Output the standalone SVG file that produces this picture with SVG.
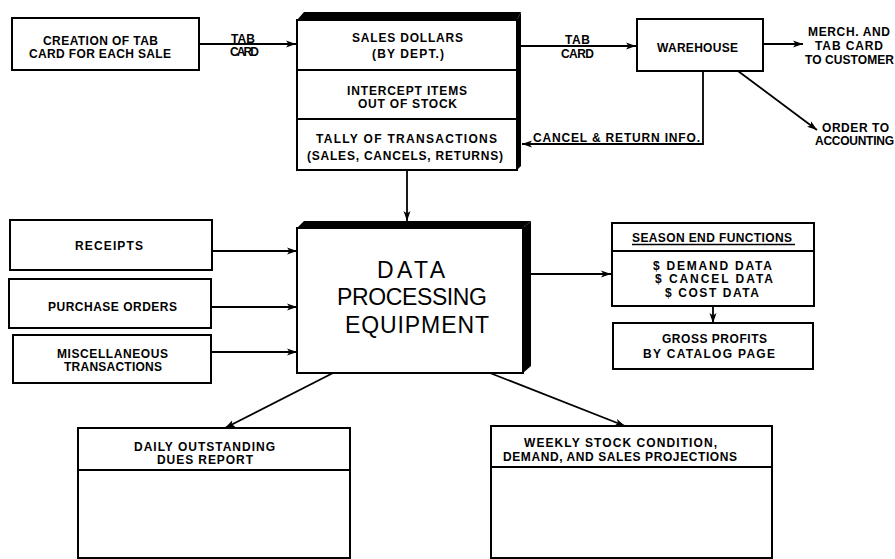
<svg xmlns="http://www.w3.org/2000/svg" width="895" height="559" viewBox="0 0 895 559">
<style>
  .box{fill:#fff;stroke:#000;stroke-width:2}
  .div{stroke:#000;stroke-width:1.8;fill:none}
  .sh{fill:#000}
  .t{font-family:"Liberation Sans",Arial,sans-serif;font-weight:bold;font-size:12px;fill:#000}
  .big{font-family:"Liberation Sans",Arial,sans-serif;font-size:23px;fill:#000}
  .c{stroke:#000;stroke-width:1.8;fill:none}
</style>
<defs>
  <marker id="ah" markerUnits="userSpaceOnUse" markerWidth="11" markerHeight="8" refX="10" refY="4" orient="auto">
    <path d="M0,0.5 L10,4 L0,7.5 L2.5,4 Z" fill="#000"/>
  </marker>
</defs>
<rect width="895" height="559" fill="#fff"/>

<g id="connectors">
  <line class="c" x1="199" y1="44" x2="296" y2="44" marker-end="url(#ah)"/>
  <line class="c" x1="521" y1="46" x2="636" y2="46" marker-end="url(#ah)"/>
  <line class="c" x1="763" y1="44" x2="803" y2="44" marker-end="url(#ah)"/>
  <line class="c" x1="738" y1="71" x2="817" y2="130" marker-end="url(#ah)"/>
  <polyline class="c" points="703,71 703,144 522,144" marker-end="url(#ah)"/>
  <line class="c" x1="407" y1="170" x2="407" y2="221" marker-end="url(#ah)"/>
  <line class="c" x1="212" y1="251" x2="297" y2="251" marker-end="url(#ah)"/>
  <line class="c" x1="211" y1="307" x2="297" y2="307" marker-end="url(#ah)"/>
  <line class="c" x1="211" y1="352" x2="297" y2="352" marker-end="url(#ah)"/>
  <line class="c" x1="531" y1="274" x2="611" y2="274" marker-end="url(#ah)"/>
  <line class="c" x1="713" y1="306" x2="713" y2="323" marker-end="url(#ah)"/>
  <line class="c" x1="333" y1="373" x2="225" y2="428" marker-end="url(#ah)"/>
  <line class="c" x1="490" y1="373" x2="625" y2="426" marker-end="url(#ah)"/>
  <text class="t" x="231" y="42.5" textLength="24">TAB</text>
  <text class="t" x="230" y="56" textLength="29">CARD</text>
  <text class="t" x="565" y="43.5" textLength="25">TAB</text>
  <text class="t" x="561" y="58" textLength="33">CARD</text>
  <text class="t" x="808" y="36" textLength="82">MERCH. AND</text>
  <text class="t" x="815" y="49.5" textLength="68">TAB CARD</text>
  <text class="t" x="805" y="63.5" textLength="89">TO CUSTOMER</text>
  <text class="t" x="822" y="131.5" textLength="67">ORDER TO</text>
  <text class="t" x="815" y="145" textLength="79">ACCOUNTING</text>
  <text class="t" x="533" y="142" textLength="167">CANCEL &amp; RETURN INFO.</text>
</g>

<g id="creation">
  <rect class="box" x="12" y="18" width="187" height="52"/>
  <text class="t" x="43" y="44.5" textLength="115">CREATION OF TAB</text>
  <text class="t" x="29" y="57.5" textLength="142">CARD FOR EACH SALE</text>
</g>

<g id="sales">
  <rect class="box" x="297" y="20" width="220" height="150"/>
  <polygon class="sh" points="297,20 304,12 521,12 517,20"/>
  <polygon class="sh" points="517,20 521,12 521,166 517,170"/>
  <line class="div" x1="297" y1="70" x2="517" y2="70"/>
  <line class="div" x1="297" y1="119" x2="517" y2="119"/>
  <text class="t" x="352" y="42" textLength="111">SALES DOLLARS</text>
  <text class="t" x="372" y="58" textLength="72">(BY DEPT.)</text>
  <text class="t" x="347" y="94.5" textLength="120">INTERCEPT ITEMS</text>
  <text class="t" x="358" y="108" textLength="99">OUT OF STOCK</text>
  <text class="t" x="316" y="143" textLength="181">TALLY OF TRANSACTIONS</text>
  <text class="t" x="307" y="160" textLength="196">(SALES, CANCELS, RETURNS)</text>
</g>

<g id="warehouse">
  <rect class="box" x="637" y="19" width="126" height="52"/>
  <text class="t" x="657" y="52" textLength="81">WAREHOUSE</text>
</g>

<g id="receipts">
  <rect class="box" x="10" y="220" width="202" height="50"/>
  <text class="t" x="75" y="250" textLength="68">RECEIPTS</text>
</g>

<g id="purchase">
  <rect class="box" x="9" y="279" width="202" height="49"/>
  <text class="t" x="48" y="311" textLength="129">PURCHASE ORDERS</text>
</g>

<g id="misc">
  <rect class="box" x="13" y="335" width="198" height="48"/>
  <text class="t" x="57" y="357.5" textLength="111">MISCELLANEOUS</text>
  <text class="t" x="64" y="370.5" textLength="98">TRANSACTIONS</text>
</g>

<g id="dataproc">
  <rect class="box" x="297" y="228" width="226" height="145"/>
  <polygon class="sh" points="297,228 304,221 531,221 523,228"/>
  <polygon class="sh" points="523,228 531,221 531,366 523,373"/>
  <text class="big" x="377" y="278" textLength="68">DATA</text>
  <text class="big" x="337" y="305" textLength="150">PROCESSING</text>
  <text class="big" x="345" y="333" textLength="144">EQUIPMENT</text>
</g>

<g id="season">
  <rect class="box" x="612" y="223" width="202" height="83"/>
  <line class="div" x1="612" y1="251" x2="814" y2="251"/>
  <text class="t" x="632" y="242" textLength="160">SEASON END FUNCTIONS</text>
  <line x1="632" y1="244.5" x2="795" y2="244.5" stroke="#000" stroke-width="1.3"/>
  <text class="t" x="653" y="269.5" textLength="119">$ DEMAND DATA</text>
  <text class="t" x="655" y="283" textLength="118">$ CANCEL DATA</text>
  <text class="t" x="665" y="296.5" textLength="94">$ COST DATA</text>
</g>

<g id="gross">
  <rect class="box" x="613" y="323" width="200" height="46"/>
  <text class="t" x="662" y="343" textLength="105">GROSS PROFITS</text>
  <text class="t" x="643" y="358" textLength="132">BY CATALOG PAGE</text>
</g>

<g id="daily">
  <rect class="box" x="78" y="428" width="272" height="130"/>
  <line class="div" x1="78" y1="470" x2="350" y2="470"/>
  <text class="t" x="134" y="450.5" textLength="141">DAILY OUTSTANDING</text>
  <text class="t" x="157" y="463.5" textLength="96">DUES REPORT</text>
</g>

<g id="weekly">
  <rect class="box" x="491" y="426" width="281" height="132"/>
  <line class="div" x1="491" y1="467" x2="772" y2="467"/>
  <text class="t" x="524" y="447" textLength="193">WEEKLY STOCK CONDITION,</text>
  <text class="t" x="503" y="461" textLength="234">DEMAND, AND SALES PROJECTIONS</text>
</g>
</svg>
